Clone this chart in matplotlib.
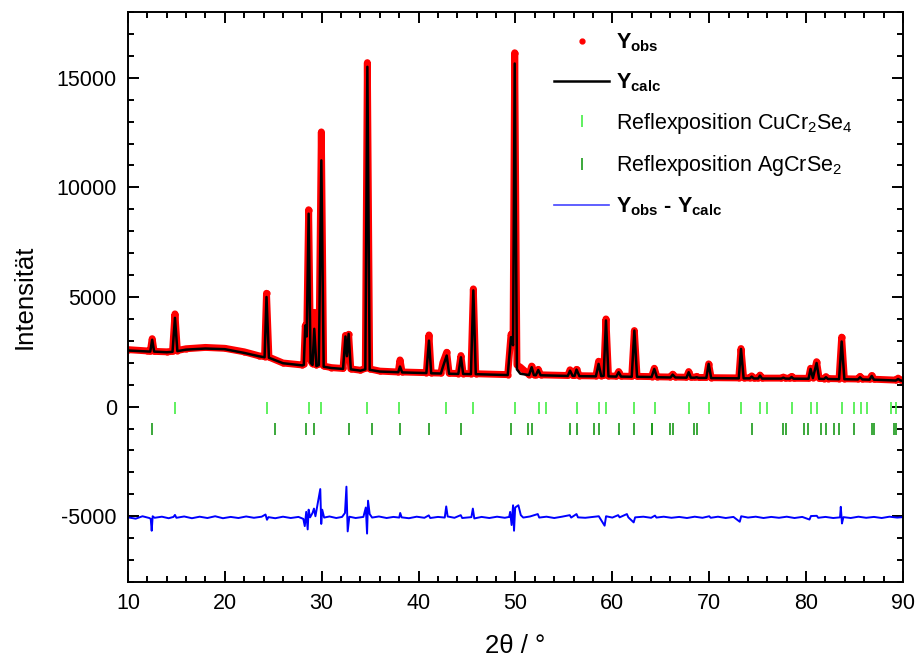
import numpy as np
import matplotlib.pyplot as plt
from matplotlib.lines import Line2D

two_theta = [10.0, 12.0, 12.3, 12.5, 12.7, 14.0, 14.6, 14.85, 15.1, 16.0,
             18.0, 20.0, 22.0, 23.5, 24.1, 24.3, 24.55, 26.0, 28.0, 28.15,
             28.3, 28.45, 28.65, 28.85, 29.05, 29.23, 29.45, 29.7, 29.96, 30.2,
             31.0, 32.2, 32.45, 32.6, 32.78, 33.0, 34.0, 34.5, 34.71, 34.95,
             36.0, 37.9, 38.08, 38.3, 40.8, 41.07, 41.3, 42.3, 42.5, 42.9,
             43.15, 44.1, 44.37, 44.6, 45.4, 45.65, 45.9, 49.2, 49.54, 49.75,
             49.92, 50.15, 50.5, 51.4, 51.67, 51.9, 52.1, 52.35, 52.6, 55.4,
             55.63, 55.9, 56.1, 56.3, 56.6, 58.3, 58.58, 58.85, 59.1, 59.34,
             59.6, 60.4, 60.65, 60.9, 62.0, 62.27, 62.55, 64.05, 64.33, 64.6,
             66.0, 66.23, 66.5, 67.65, 67.88, 68.1, 68.5, 68.7, 68.9, 69.7,
             69.94, 70.2, 73.05, 73.28, 73.55, 74.2, 74.38, 74.6, 75.05, 75.24,
             75.45, 77.45, 77.65, 77.85, 78.3, 78.5, 78.7, 80.25, 80.46, 80.7,
             81.08, 81.35, 81.85, 82.05, 82.25, 83.4, 83.67, 83.95, 85.35, 85.56,
             85.8, 86.55, 86.77, 87.0, 89.25, 89.5, 89.75, 90.0]
y_calc = [2560, 2520, 2510, 3050, 2510, 2480, 2500, 4050, 2530, 2600,
          2650, 2620, 2450, 2300, 2250, 5000, 2230, 1980, 1880, 1900,
          3700, 3200, 8800, 2000, 1900, 3550, 1850, 1900, 11230, 1820,
          1760, 1720, 3200, 2300, 3320, 1700, 1640, 1700, 15500, 1680,
          1600, 1570, 1830, 1560, 1530, 3010, 1520, 1510, 1800, 2330,
          1500, 1490, 2250, 1490, 1480, 5300, 1480, 1440, 3170, 2800,
          15650, 1700, 1500, 1440, 1800, 1440, 1430, 1670, 1430, 1400,
          1640, 1400, 1400, 1690, 1390, 1380, 1950, 1390, 1400, 3930,
          1380, 1370, 1570, 1370, 1360, 3470, 1360, 1350, 1720, 1340,
          1330, 1460, 1330, 1320, 1570, 1320, 1320, 1340, 1310, 1310,
          1950, 1300, 1290, 2630, 1290, 1290, 1370, 1285, 1285, 1415,
          1280, 1280, 1320, 1280, 1275, 1350, 1275, 1270, 1720, 1300,
          1990, 1265, 1260, 1340, 1260, 1250, 2970, 1250, 1240, 1340,
          1240, 1230, 1400, 1230, 1190, 1260, 1190, 1180]
y_obs = [2600, 2540, 2520, 3100, 2520, 2500, 2520, 4230, 2560, 2640,
         2700, 2660, 2500, 2320, 2280, 5170, 2260, 1990, 1900, 1950,
         3700, 3300, 8980, 2100, 1950, 4300, 1900, 1950, 12530, 1850,
         1780, 1740, 3250, 2400, 3300, 1720, 1660, 1750, 15690, 1720,
         1620, 1580, 2130, 1580, 1550, 3270, 1540, 1530, 2000, 2480,
         1520, 1510, 2330, 1510, 1500, 5370, 1500, 1460, 3300, 3000,
         16140, 1900, 1800, 1460, 1850, 1460, 1450, 1700, 1450, 1420,
         1680, 1420, 1420, 1700, 1410, 1400, 2070, 1410, 1420, 4000,
         1400, 1390, 1600, 1390, 1380, 3470, 1380, 1370, 1750, 1360,
         1350, 1480, 1350, 1340, 1600, 1340, 1340, 1380, 1330, 1330,
         1950, 1320, 1310, 2650, 1310, 1310, 1400, 1300, 1300, 1440,
         1300, 1300, 1350, 1300, 1295, 1380, 1295, 1290, 1750, 1320,
         2050, 1285, 1280, 1370, 1280, 1270, 3170, 1270, 1260, 1380,
         1260, 1250, 1420, 1250, 1210, 1300, 1210, 1200]

# Difference curve (Yobs - Ycalc, shifted by -5000)
diff_x = [10.0, 10.8, 11.5, 12.2, 12.35, 12.45, 12.55, 12.75, 13.5, 14.2,
          14.7, 14.85, 15.0, 15.8, 16.6, 17.4, 18.2, 19.0, 19.8, 20.6,
          21.4, 22.2, 23.0, 23.8, 24.2, 24.35, 24.5, 25.2, 26.0, 26.8,
          27.6, 28.1, 28.25, 28.4, 28.55, 28.65, 28.8, 29.05, 29.2, 29.35,
          29.85, 29.95, 30.05, 30.25, 30.8, 31.5, 32.1, 32.4, 32.55, 32.68,
          32.85, 33.5, 34.3, 34.55, 34.68, 34.78, 34.95, 35.2, 35.9, 36.7,
          37.4, 38.0, 38.1, 38.25, 39.0, 39.8, 40.6, 41.05, 41.2, 42.0,
          42.7, 42.85, 43.0, 43.7, 44.35, 44.5, 45.45, 45.6, 45.75, 46.5,
          47.3, 48.1, 48.9, 49.35, 49.45, 49.6, 49.75, 49.85, 49.97, 50.3,
          50.55, 50.8, 51.5, 52.3, 52.45, 53.2, 54.0, 54.8, 55.6, 55.75,
          56.3, 56.45, 57.2, 58.0, 58.6, 59.2, 59.35, 60.0, 60.6, 60.75,
          61.5, 61.65, 62.2, 62.35, 63.2, 64.0, 64.4, 64.55, 65.3, 66.1,
          66.9, 67.7, 68.5, 69.3, 70.0, 70.15, 70.9, 71.7, 72.5, 73.15,
          73.3, 74.0, 74.8, 75.6, 76.4, 77.2, 78.0, 78.8, 79.6, 80.35,
          80.5, 81.1, 81.25, 82.0, 82.8, 83.5, 83.58, 83.7, 83.85, 84.6,
          85.4, 86.2, 87.0, 87.8, 88.6, 89.4, 90.0]
diff_y = [-5050, -5110, -5000, -5080, -5120, -5660, -5000, -5070, -5020, -5090,
          -5030, -4940, -5070, -5010, -5090, -5020, -5080, -5000, -5090, -5030,
          -5080, -5010, -5070, -5020, -4920, -5160, -5040, -5090, -5020, -5080,
          -5030, -5120, -5450, -4800, -5600, -4700, -5050, -4850, -4650, -5000,
          -3760, -5350, -4700, -5060, -5010, -5080, -5030, -4850, -3650, -5690,
          -5020, -5080, -5030, -4600, -5790, -4290, -4900, -5060, -5010, -5080,
          -5030, -5060, -4850, -5050, -5090, -5020, -5070, -4960, -5080, -5030,
          -5060, -4550, -5010, -5070, -4950, -5080, -5040, -4650, -5100, -5030,
          -5080, -5020, -5070, -5030, -4800, -5400, -4500, -5660, -4600, -4500,
          -4950, -5060, -5010, -4900, -5060, -5020, -5080, -5020, -4950, -5060,
          -4900, -5050, -5070, -5030, -5000, -5430, -5000, -5060, -4950, -5050,
          -4900, -5050, -5280, -5050, -5020, -5070, -4970, -5060, -5020, -5070,
          -5030, -5080, -5020, -5070, -5000, -5070, -5020, -5080, -5030, -5250,
          -5000, -5060, -5020, -5080, -5030, -5070, -5020, -5080, -5030, -5150,
          -4990, -4980, -5070, -5030, -5080, -5050, -4570, -5330, -5040, -5080,
          -5020, -5070, -5030, -5080, -5020, -5060, -5040]

# Reflection positions
refl_cucr2se4 = [14.85, 24.35, 28.65, 29.96, 34.71, 37.94, 42.86, 45.61, 49.96, 52.4,
                 53.18, 56.32, 58.58, 59.31, 62.23, 64.37, 67.88, 69.94, 73.28, 75.27,
                 75.93, 78.54, 80.47, 81.12, 83.74, 84.97, 85.63, 86.25, 88.8, 89.27]
refl_agcrse2 = [12.51, 25.14, 28.34, 29.23, 32.78, 35.22, 38.11, 41.1, 44.37, 49.52,
                51.33, 51.67, 55.63, 56.35, 58.1, 58.62, 60.68, 62.23, 64.06, 64.12,
                65.95, 66.23, 68.46, 68.7, 74.38, 77.65, 77.89, 79.78, 80.16, 81.5,
                82.02, 82.9, 83.39, 84.97, 86.77, 87.04, 89.07, 89.27]

plt.rcParams['font.family'] = ['Liberation Sans', 'DejaVu Sans']
plt.rcParams['mathtext.fontset'] = 'custom'
plt.rcParams['mathtext.rm'] = 'Liberation Sans'
plt.rcParams['mathtext.it'] = 'Liberation Sans:italic'
plt.rcParams['mathtext.bf'] = 'Liberation Sans:bold'
plt.rcParams['axes.unicode_minus'] = False

fig = plt.figure(figsize=(9.16, 6.62), dpi=100)
ax = fig.add_axes([0.1397, 0.1208, 0.8461, 0.8611])

ax.plot(two_theta, y_obs, color='#ff0000', lw=5, solid_joinstyle='round', zorder=1)
ax.plot(two_theta, y_obs, 'o', color='#ff0000', ms=3.5, zorder=1)
ax.plot(two_theta, y_calc, color='black', lw=1.8, zorder=2)
ax.plot(refl_cucr2se4, [-50] * len(refl_cucr2se4), ls='none', marker='|',
        color='#44ee44', ms=9, mew=1.2)
ax.plot(refl_agcrse2, [-1000] * len(refl_agcrse2), ls='none', marker='|',
        color='#1a9a1a', ms=9, mew=1.2)
ax.plot(diff_x, diff_y, color='#0000ff', lw=1.4, zorder=2)

ax.set_xlim(10, 90)
ax.set_ylim(-8000, 18000)
ax.set_xticks(np.arange(10, 91, 10))
ax.set_xticks(np.arange(10, 91, 2), minor=True)
ax.set_yticks([-5000, 0, 5000, 10000, 15000])
ax.set_yticks(np.arange(-8000, 18001, 1000), minor=True)
ax.tick_params(which='both', direction='in', top=True, right=True,
               labelsize=15.5, width=1.4, pad=8)
ax.tick_params(which='major', length=8)
ax.tick_params(which='minor', length=4.5)
for s in ax.spines.values():
    s.set_linewidth(1.4)

ax.set_xlabel('2θ / °', fontsize=18.5, labelpad=14)
ax.set_ylabel('Intensität', fontsize=18.5, labelpad=14)

handles = [
    Line2D([], [], ls='none', marker='o', color='#ff0000', ms=3.5),
    Line2D([], [], color='black', lw=1.8),
    Line2D([], [], ls='none', marker='|', color='#44ee44', ms=9, mew=1.2),
    Line2D([], [], ls='none', marker='|', color='#1a9a1a', ms=9, mew=1.2),
    Line2D([], [], color='#4444ff', lw=1.2),
]
labels = [r'$\mathbf{Y_{obs}}$', r'$\mathbf{Y_{calc}}$',
          'Reflexposition CuCr$_2$Se$_4$', 'Reflexposition AgCrSe$_2$',
          r'$\mathbf{Y_{obs}}$ - $\mathbf{Y_{calc}}$']
leg = ax.legend(handles, labels, loc='upper left', bbox_to_anchor=(0.525, 1.0),
                frameon=False, fontsize=15.5, handlelength=2.55, handletextpad=0.3,
                labelspacing=0.8)
leg.get_texts()[4].set_fontweight('bold')

fig.savefig('out.png', dpi=100)
